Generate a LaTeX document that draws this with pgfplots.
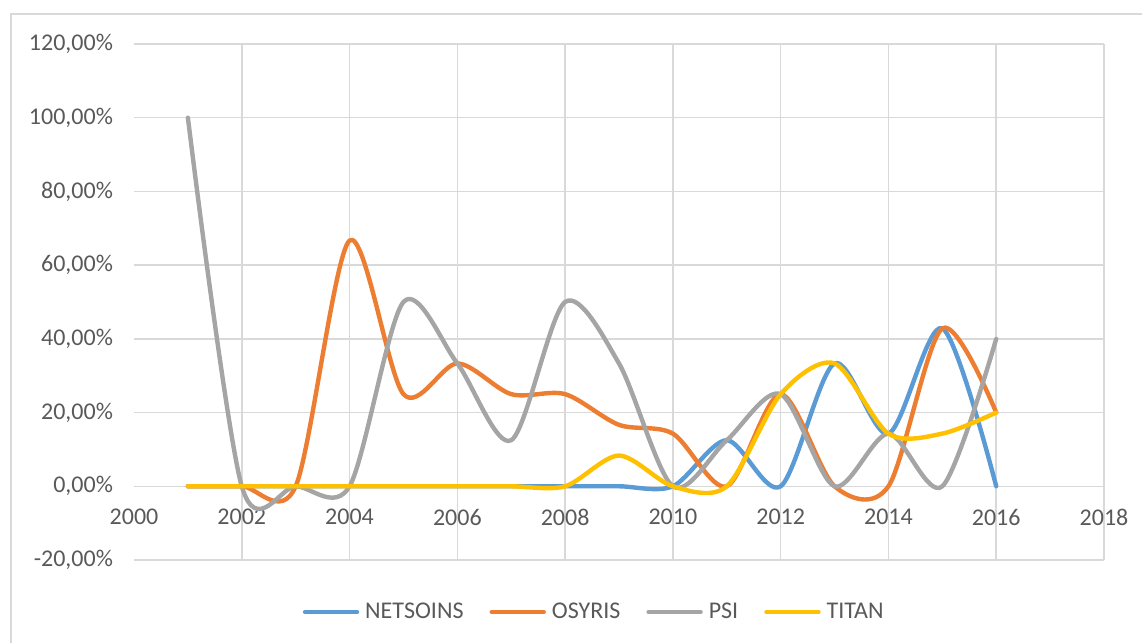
\documentclass[border=0pt]{standalone}
\usepackage{fontspec}
\setmainfont{Carlito}
\usepackage{pgfplots}
\pgfplotsset{compat=1.18}
\definecolor{cNet}{HTML}{5B9BD5}
\definecolor{cOsy}{HTML}{ED7D31}
\definecolor{cPsi}{HTML}{A5A5A5}
\definecolor{cTit}{HTML}{FFC000}
\definecolor{cGrid}{HTML}{D9D9D9}
\definecolor{cTxt}{HTML}{595959}
\begin{document}
\begin{tikzpicture}
\path[use as bounding box] (0pt,0pt) rectangle (571pt,321.5pt);
\draw[cGrid, line width=1pt] (5.5pt,0pt) -- (5.5pt,314.5pt) -- (571pt,314.5pt);
\begin{axis}[
  at={(67pt,41.5pt)}, anchor=south west,
  scale only axis, width=485pt, height=258pt,
  xmin=2000, xmax=2018, ymin=-20, ymax=120,
  xtick={2002,2004,...,2018},
  extra x ticks={2000}, extra x tick style={grid=none},
  ytick={-20,0,...,120},
  grid=major,
  major grid style={cGrid, line width=0.75pt},
  axis line style={draw=none},
  major tick length=0pt,
  /pgf/number format/1000 sep={},
  /pgf/number format/assume math mode=true,
  tick label style={font=\fontsize{12}{14}\selectfont, text=cTxt},
  yticklabel={\pgfmathprintnumber[fixed,fixed zerofill,precision=2,use comma]{\tick}\%},
  yticklabel style={xshift=-7pt},
  xticklabel style={yshift=29pt},
  legend style={at={(0.4755,-0.1008)}, anchor=center, draw=none, fill=none,
    font=\fontsize{12}{14}\selectfont, text=cTxt,
    /tikz/every odd column/.append style={column sep=1pt},
    /tikz/every even column/.append style={column sep=11pt}},
  legend columns=4,
  legend image code/.code={\draw[#1] (0pt,0pt) -- (26pt,0pt);},
  every axis plot/.append style={smooth, line width=2.2pt, line join=round, line cap=round},
]
\addplot[cNet] coordinates {(2001,0) (2002,0) (2003,0) (2004,0) (2005,0) (2006,0) (2007,0) (2008,0) (2009,0) (2010,0) (2011,12.5) (2012,0) (2013,33.33) (2014,14.29) (2015,42.86) (2016,0)};
\addlegendentry{NETSOINS}
\addplot[cOsy] coordinates {(2001,0) (2002,0) (2003,0) (2004,66.67) (2005,25) (2006,33.33) (2007,25) (2008,25) (2009,16.67) (2010,14.29) (2011,0) (2012,25) (2013,0) (2014,0) (2015,42.86) (2016,20)};
\addlegendentry{OSYRIS}
\addplot[cPsi] coordinates {(2001,100) (2002,0) (2003,0) (2004,0) (2005,50) (2006,33.33) (2007,12.5) (2008,50) (2009,33.33) (2010,0) (2011,12.5) (2012,25) (2013,0) (2014,14.29) (2015,0) (2016,40)};
\addlegendentry{PSI}
\addplot[cTit] coordinates {(2001,0) (2002,0) (2003,0) (2004,0) (2005,0) (2006,0) (2007,0) (2008,0) (2009,8.33) (2010,0) (2011,0) (2012,25) (2013,33.33) (2014,14.29) (2015,14.29) (2016,20)};
\addlegendentry{TITAN}
\end{axis}
\end{tikzpicture}
\end{document}
